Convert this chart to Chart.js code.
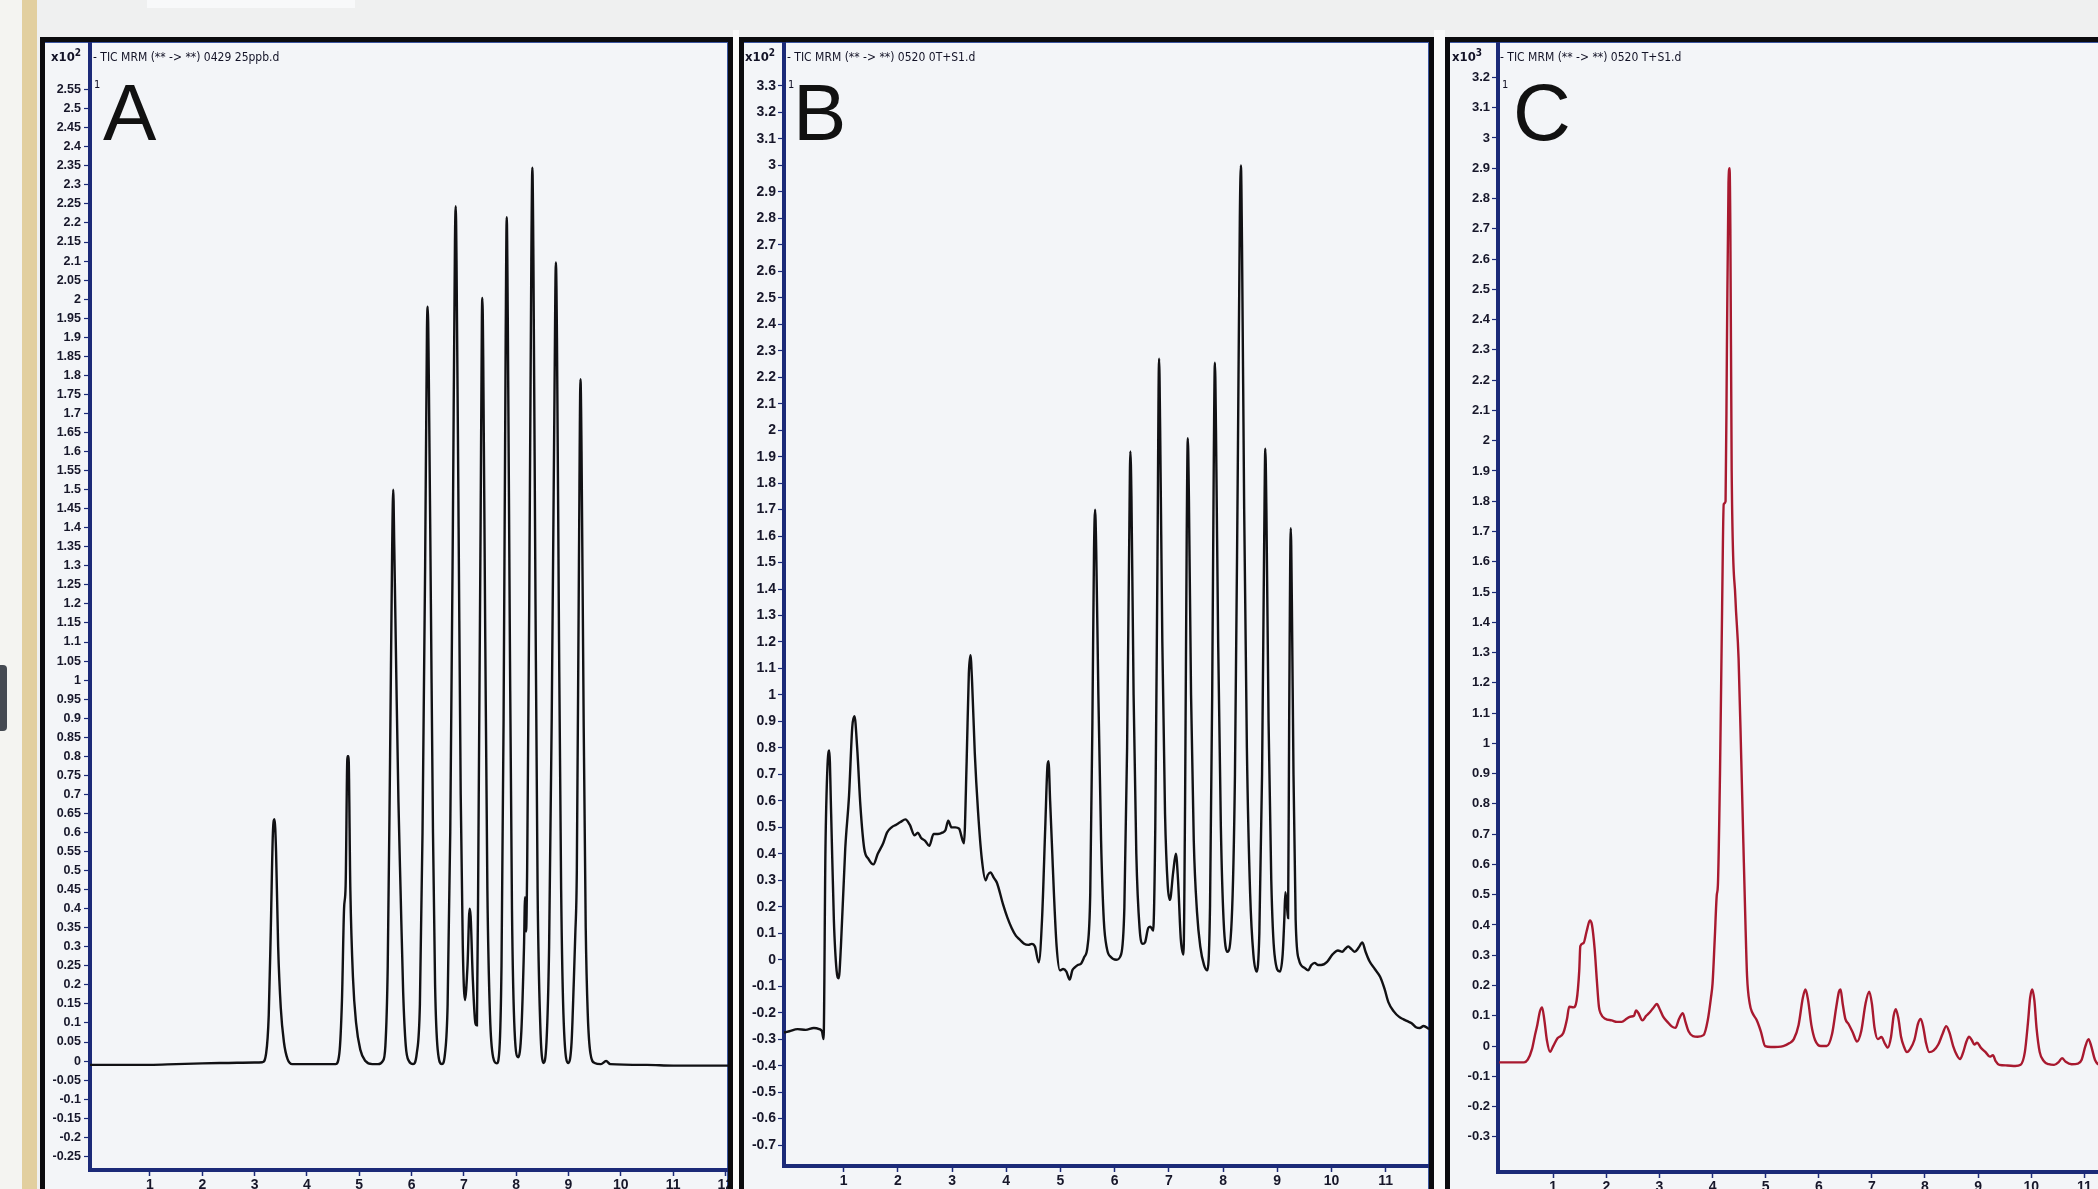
<!DOCTYPE html>
<html>
<head>
<meta charset="utf-8">
<script src="https://cdn.jsdelivr.net/npm/chart.js@4.4.1/dist/chart.umd.min.js"></script>
<style>
html,body{margin:0;padding:0;width:2098px;height:1189px;overflow:hidden;background:#eff0f0;}
#leftwhite{position:absolute;left:0;top:0;width:22px;height:1189px;background:#f4f4f1;}
#beige{position:absolute;left:22px;top:0;width:15px;height:1189px;background:#e2cf9f;}
#blob{position:absolute;left:0;top:665px;width:7px;height:66px;background:#454a52;border-radius:0 4px 4px 0;}
#paper{position:absolute;left:147px;top:0;width:208px;height:8px;background:#f8f9fa;}
#gap1{position:absolute;left:733px;top:30px;width:6px;height:1189px;background:#fafbfb;}
#gap2{position:absolute;left:1434px;top:30px;width:11px;height:1189px;background:#fafbfb;}
.panel{position:absolute;top:37px;height:1200px;border:5px solid #0b0b0e;background:#f3f5f8;
  box-shadow: inset 0 1px 0 #3a55a0, inset -1px 0 0 #3a55a0;}
.panel canvas{position:absolute;left:0;top:0;}
.txt{position:absolute;white-space:nowrap;color:#121226;font-family:"DejaVu Sans Condensed","Liberation Sans",sans-serif;}
.hdr{font-size:12px;line-height:14px;}
.hdr sup{font-size:10px;vertical-align:5px;line-height:0;}
.x10{font-size:13px;font-weight:bold;}
.one{font-size:11px;line-height:12px;}
.big{font-family:"Liberation Sans",Arial,sans-serif;font-size:80px;line-height:80px;color:#111;}
</style>
</head>
<body>
<div id="leftwhite"></div>
<div id="beige"></div>
<div id="blob"></div>
<div id="paper"></div>
<div id="gap1"></div>
<div id="gap2"></div>

<div class="panel" style="left:40px;width:683px;"><canvas id="cA" width="683" height="1158" style="width:683px;height:1158px"></canvas></div>
<div class="panel" style="left:739px;width:685px;"><canvas id="cB" width="685" height="1158" style="width:685px;height:1158px"></canvas></div>
<div class="panel" style="left:1445px;width:690px;border-right:none;"><canvas id="cC" width="680" height="1158" style="width:680px;height:1158px"></canvas></div>

<div class="txt hdr x10" style="left:51px;top:50px;">x10<sup>2</sup></div>
<div class="txt hdr" style="left:93px;top:50px;">- TIC MRM (** -&gt; **) 0429 25ppb.d</div>
<div class="txt one" style="left:94px;top:79px;">1</div>
<div class="txt big" style="left:103px;top:73px;">A</div>

<div class="txt hdr x10" style="left:745px;top:50px;">x10<sup>2</sup></div>
<div class="txt hdr" style="left:787px;top:50px;">- TIC MRM (** -&gt; **) 0520 0T+S1.d</div>
<div class="txt one" style="left:788px;top:79px;">1</div>
<div class="txt big" style="left:793px;top:73px;">B</div>

<div class="txt hdr x10" style="left:1452px;top:50px;">x10<sup>3</sup></div>
<div class="txt hdr" style="left:1500px;top:50px;">- TIC MRM (** -&gt; **) 0520 T+S1.d</div>
<div class="txt one" style="left:1502px;top:79px;">1</div>
<div class="txt big" style="left:1513px;top:73px;">C</div>

<script>
// ---------------- Panel A : 0429 25ppb.d (x10^2 counts) ----------------
const timeA = [
  -0.15, 0.5, 1.0, 1.5, 2.0, 2.5, 3.0, 3.15,
  3.22, 3.27, 3.31, 3.35, 3.38, 3.41, 3.45, 3.50, 3.56, 3.63, 3.72,
  4.1, 4.55,
  4.62, 4.67, 4.71, 4.74, 4.775, 4.795, 4.83, 4.88, 4.94, 5.02, 5.12, 5.25,
  5.36, 5.45, 5.50, 5.545, 5.59, 5.63, 5.65, 5.67, 5.71, 5.75, 5.79, 5.84, 5.89, 5.95,
  6.03, 6.10, 6.16, 6.21, 6.26, 6.295, 6.31, 6.33, 6.37, 6.41, 6.45, 6.50, 6.58,
  6.64, 6.69, 6.74, 6.79, 6.83, 6.845, 6.86, 6.90, 6.94, 6.98, 7.02,
  7.07, 7.11, 7.13, 7.17, 7.22, 7.25,
  7.28, 7.32, 7.345, 7.355, 7.37, 7.41, 7.45, 7.50, 7.56, 7.63,
  7.68, 7.72, 7.76, 7.80, 7.82, 7.84, 7.88, 7.92, 7.97, 8.04,
  8.10, 8.15, 8.17, 8.19, 8.21,
  8.25, 8.29, 8.31, 8.33, 8.37, 8.41, 8.46, 8.52,
  8.58, 8.63, 8.68, 8.73, 8.76, 8.78, 8.82, 8.86, 8.91, 9.0,
  9.06, 9.10, 9.13, 9.16, 9.20, 9.23, 9.25, 9.29, 9.33, 9.37, 9.42, 9.50,
  9.62, 9.72, 9.80, 10.5, 11.0, 11.5, 12.1
];
const signalA = [
  -0.010, -0.010, -0.010, -0.008, -0.006, -0.005, -0.004, -0.003,
  0.02, 0.12, 0.35, 0.60, 0.635, 0.55, 0.30, 0.14, 0.05, 0.005, -0.008,
  -0.008, -0.008,
  0.02, 0.16, 0.40, 0.46, 0.80, 0.80, 0.45, 0.22, 0.10, 0.03, 0.0, -0.008,
  -0.008, 0.0, 0.04, 0.25, 0.80, 1.35, 1.50, 1.35, 1.0, 0.68, 0.45, 0.18, 0.04, 0.0,
  -0.008, 0.02, 0.15, 0.6, 1.3, 1.92, 1.98, 1.8, 1.2, 0.6, 0.2, 0.03, -0.008,
  0.02, 0.15, 0.6, 1.4, 2.15, 2.244, 2.1, 1.4, 0.7, 0.3, 0.16,
  0.25, 0.40, 0.38, 0.22, 0.10, 0.094,
  0.6, 1.4, 1.95, 2.003, 1.85, 1.1, 0.45, 0.12, 0.01, -0.006,
  0.03, 0.25, 0.9, 1.9, 2.215, 1.95, 1.1, 0.4, 0.08, 0.01,
  0.08, 0.3, 0.43, 0.34, 0.5,
  1.2, 2.1, 2.345, 2.1, 1.2, 0.45, 0.1, -0.005,
  0.05, 0.3, 0.9, 1.7, 2.096, 1.9, 1.1, 0.45, 0.1, -0.005,
  0.05, 0.2, 0.33, 0.50, 1.3, 1.79, 1.6, 0.9, 0.35, 0.12, 0.02, -0.005,
  -0.008, 0.0, -0.008, -0.010, -0.012, -0.012, -0.012
];
const yTicksA = [-0.25,-0.2,-0.15,-0.1,-0.05,0,0.05,0.1,0.15,0.2,0.25,0.3,0.35,0.4,0.45,0.5,0.55,0.6,0.65,0.7,
  0.75,0.8,0.85,0.9,0.95,1,1.05,1.1,1.15,1.2,1.25,1.3,1.35,1.4,1.45,1.5,1.55,1.6,1.65,1.7,1.75,1.8,1.85,1.9,
  1.95,2,2.05,2.1,2.15,2.2,2.25,2.3,2.35,2.4,2.45,2.5,2.55];
const xTicksA = [1,2,3,4,5,6,7,8,9,10,11,12];

// ---------------- Panel B : 0520 0T+S1.d (x10^2 counts) ----------------
const timeB = [
  -0.10, 0.0, 0.15, 0.30, 0.45, 0.55, 0.60, 0.63,
  0.665, 0.70, 0.735, 0.77, 0.82, 0.87, 0.91, 0.95, 1.03, 1.10, 1.16, 1.20, 1.25, 1.31, 1.38, 1.46, 1.55,
  1.63, 1.73, 1.80, 1.885, 1.97, 2.05, 2.14, 2.22, 2.31, 2.37, 2.43, 2.50, 2.58, 2.66, 2.74, 2.82, 2.88, 2.93, 2.99, 3.06, 3.13, 3.22,
  3.27, 3.31, 3.34, 3.37, 3.42, 3.48, 3.55, 3.62, 3.66, 3.71, 3.77, 3.83, 3.94, 4.02, 4.10, 4.18, 4.25, 4.33, 4.41, 4.47, 4.53, 4.60,
  4.66, 4.72, 4.76, 4.78, 4.81, 4.85, 4.88, 4.93, 4.99, 5.05, 5.11, 5.17, 5.22, 5.26, 5.32, 5.38, 5.44, 5.50,
  5.55, 5.59, 5.62, 5.64, 5.66, 5.70, 5.75, 5.80, 5.86, 5.93, 6.03,
  6.12, 6.18, 6.23, 6.27, 6.29, 6.31, 6.35, 6.40, 6.46, 6.52, 6.56, 6.62, 6.66, 6.71,
  6.75, 6.79, 6.82, 6.84, 6.88, 6.93, 6.98, 7.02, 7.08, 7.13, 7.17, 7.22, 7.27,
  7.30, 7.33, 7.35, 7.37, 7.41, 7.46, 7.52, 7.58, 7.65, 7.71,
  7.76, 7.80, 7.83, 7.85, 7.87, 7.91, 7.96, 8.01, 8.08,
  8.16, 8.22, 8.27, 8.31, 8.33, 8.35, 8.39, 8.44, 8.50, 8.56, 8.62,
  8.67, 8.72, 8.76, 8.78, 8.80, 8.84, 8.89, 8.95, 9.05,
  9.10, 9.13, 9.15, 9.18, 9.20, 9.22, 9.25, 9.27, 9.30, 9.34, 9.40,
  9.50, 9.57, 9.63, 9.69, 9.75, 9.81, 9.92, 10.02, 10.12, 10.20, 10.25, 10.31, 10.37, 10.43, 10.50, 10.57, 10.63, 10.70,
  10.80, 10.90, 10.98, 11.05, 11.15, 11.25, 11.33, 11.40, 11.48, 11.56, 11.63, 11.70, 11.80
];
const signalB = [
  -0.275, -0.27, -0.262, -0.265, -0.258, -0.262, -0.27, -0.30,
  0.42, 0.72, 0.79, 0.55, 0.15, -0.04, -0.07, 0.05, 0.42, 0.62, 0.88, 0.92, 0.80, 0.58, 0.42, 0.38, 0.36,
  0.40, 0.44, 0.48, 0.50, 0.51, 0.52, 0.53, 0.51, 0.47, 0.48, 0.46, 0.45, 0.43, 0.475, 0.475, 0.48, 0.49, 0.525, 0.50, 0.50, 0.495, 0.44,
  0.75, 1.08, 1.15, 1.05, 0.78, 0.56, 0.38, 0.30, 0.32, 0.33, 0.31, 0.29, 0.21, 0.16, 0.12, 0.09, 0.076, 0.06, 0.056, 0.06, 0.05, -0.01,
  0.15, 0.50, 0.73, 0.75, 0.60, 0.40, 0.25, 0.05, -0.04, -0.035, -0.045, -0.075, -0.04, -0.03, -0.02, -0.015, 0.01, 0.05,
  0.25, 0.90, 1.55, 1.70, 1.55, 1.00, 0.45, 0.15, 0.04, 0.01, 0.0,
  0.02, 0.2, 0.8, 1.6, 1.92, 1.75, 1.0, 0.4, 0.12, 0.06, 0.065, 0.12, 0.125, 0.11,
  0.5, 1.5, 2.27, 2.0, 1.2, 0.55, 0.28, 0.226, 0.33, 0.40, 0.30, 0.08, 0.02,
  0.6, 1.6, 1.97, 1.75, 1.0, 0.45, 0.18, 0.05, -0.02, -0.04,
  0.2, 1.0, 1.9, 2.255, 2.0, 1.2, 0.5, 0.15, 0.03,
  0.15, 0.7, 1.8, 2.8, 3.00, 2.7, 1.7, 0.8, 0.25, 0.02, -0.045,
  0.1, 0.7, 1.6, 1.93, 1.7, 0.9, 0.3, 0.02, -0.045,
  0.02, 0.15, 0.255, 0.20, 0.157, 0.9, 1.63, 1.35, 0.7, 0.15, 0.0,
  -0.03, -0.04, -0.02, -0.012, -0.02, -0.02, -0.008, 0.02, 0.035, 0.03, 0.04, 0.05, 0.04, 0.03, 0.045, 0.065, 0.03, -0.005,
  -0.035, -0.065, -0.11, -0.16, -0.195, -0.216, -0.225, -0.232, -0.24, -0.255, -0.258, -0.25, -0.262
];
const yTicksB = [-0.7,-0.6,-0.5,-0.4,-0.3,-0.2,-0.1,0,0.1,0.2,0.3,0.4,0.5,0.6,0.7,0.8,0.9,1,1.1,1.2,1.3,1.4,1.5,
  1.6,1.7,1.8,1.9,2,2.1,2.2,2.3,2.4,2.5,2.6,2.7,2.8,2.9,3,3.1,3.2,3.3];
const xTicksB = [1,2,3,4,5,6,7,8,9,10,11];

// ---------------- Panel C : 0520 T+S1.d (x10^3 counts) ----------------
const timeC = [
  -0.02, 0.20, 0.45, 0.52, 0.60, 0.65, 0.70, 0.75, 0.79, 0.83, 0.88, 0.94, 1.00, 1.08, 1.19, 1.26, 1.30, 1.38, 1.44,
  1.49, 1.51, 1.57, 1.63, 1.69, 1.73, 1.78, 1.82, 1.86, 1.89, 1.98, 2.10, 2.20, 2.29,
  2.38, 2.45, 2.52, 2.56, 2.60, 2.68, 2.75, 2.81, 2.88, 2.95, 3.01, 3.07, 3.15, 3.23, 3.30, 3.37, 3.44, 3.49, 3.55, 3.63, 3.72, 3.83,
  3.91, 3.97, 4.00, 4.04, 4.08, 4.10, 4.14, 4.18, 4.21, 4.245, 4.27, 4.30, 4.32, 4.335, 4.36, 4.43, 4.49, 4.54, 4.58, 4.62, 4.65, 4.70, 4.75, 4.83, 4.91, 4.99,
  5.10, 5.33, 5.45, 5.53, 5.62, 5.70, 5.75, 5.80, 5.86, 5.93, 6.04, 6.15,
  6.25, 6.33, 6.38, 6.41, 6.45, 6.50, 6.56, 6.64, 6.72, 6.80, 6.88, 6.95, 7.00, 7.05, 7.11, 7.18, 7.24, 7.30,
  7.36, 7.41, 7.45, 7.50, 7.55, 7.60, 7.66, 7.72, 7.80, 7.87, 7.92, 7.97, 8.02, 8.08, 8.16,
  8.25, 8.33, 8.40, 8.46, 8.53, 8.60, 8.66, 8.72, 8.78, 8.83, 8.88, 8.93, 8.98, 9.05, 9.14, 9.22, 9.28, 9.33, 9.40,
  9.55, 9.70, 9.80, 9.88, 9.94, 9.98, 10.02, 10.06, 10.10, 10.16, 10.24, 10.33, 10.43,
  10.52, 10.58, 10.65, 10.76, 10.88, 10.95, 11.02, 11.08, 11.13, 11.20, 11.30, 11.45, 11.60, 11.86
];
const signalC = [
  -0.054, -0.054, -0.054, -0.045, -0.01, 0.031, 0.07, 0.115, 0.128, 0.09, 0.02, -0.019, 0.0, 0.026, 0.043, 0.09, 0.13, 0.128, 0.15,
  0.25, 0.33, 0.34, 0.38, 0.415, 0.40, 0.32, 0.22, 0.13, 0.109, 0.09, 0.085, 0.08, 0.08,
  0.09, 0.097, 0.10, 0.118, 0.11, 0.085, 0.10, 0.11, 0.125, 0.139, 0.12, 0.097, 0.08, 0.065, 0.06, 0.09, 0.109, 0.08, 0.048, 0.033, 0.031, 0.036,
  0.086, 0.16, 0.207, 0.35, 0.50, 0.53, 0.90, 1.45, 1.79, 1.80, 2.3, 2.85, 2.90, 2.7, 1.9, 1.48, 1.28, 0.95, 0.67, 0.40, 0.23, 0.14, 0.11, 0.086, 0.048, 0.0,
  -0.003, 0.0, 0.01, 0.023, 0.07, 0.16, 0.187, 0.15, 0.07, 0.02, 0.0, 0.0,
  0.04, 0.13, 0.18, 0.187, 0.14, 0.09, 0.073, 0.045, 0.015, 0.05, 0.14, 0.18, 0.14, 0.06, 0.023, 0.03, 0.01, -0.005,
  0.03, 0.10, 0.122, 0.09, 0.03, 0.0, -0.02, -0.01, 0.02, 0.075, 0.09, 0.06, 0.01, -0.02, -0.015,
  0.005, 0.04, 0.066, 0.045, 0.0, -0.03, -0.043, -0.02, 0.015, 0.031, 0.02, 0.005, 0.011, -0.005, -0.02, -0.035, -0.03, -0.05, -0.062,
  -0.064, -0.066, -0.062, -0.02, 0.08, 0.16, 0.187, 0.15, 0.06, -0.02, -0.05, -0.06, -0.062,
  -0.052, -0.04, -0.052, -0.06, -0.058, -0.045, 0.0, 0.023, 0.0, -0.045, -0.062, -0.06, -0.06, -0.06
];
const yTicksC = [-0.3,-0.2,-0.1,0,0.1,0.2,0.3,0.4,0.5,0.6,0.7,0.8,0.9,1,1.1,1.2,1.3,1.4,1.5,1.6,1.7,1.8,1.9,
  2,2.1,2.2,2.3,2.4,2.5,2.6,2.7,2.8,2.9,3,3.1,3.2];
const xTicksC = [1,2,3,4,5,6,7,8,9,10,11];

// ---------------- drawing ----------------
const NAVY = '#1b2a78';
const LABEL = '#17172a';
const fmt = v => String(Math.round(v * 100) / 100);

function drawPanel(id, p) {
  const pts = p.t.map((t, i) => ({ x: t, y: p.v[i] }));
  return new Chart(document.getElementById(id), {
    type: 'line',
    data: { datasets: [{ data: pts, borderColor: p.color, borderWidth: 2.4, pointRadius: 0,
      cubicInterpolationMode: 'monotone', fill: false }] },
    options: {
      responsive: false, animation: false, devicePixelRatio: 1, events: [],
      layout: { autoPadding: false, padding: 0 },
      plugins: { legend: { display: false }, tooltip: { enabled: false } },
      scales: {
        x: {
          type: 'linear', min: p.xmin, max: p.xmax,
          afterFit: s => { s.height = p.xh; s.paddingLeft = 0; s.paddingRight = 0; s.paddingTop = 0; s.paddingBottom = 0; },
          afterBuildTicks: s => { s.ticks = p.xticks.map(v => ({ value: v })); },
          ticks: { autoSkip: false, maxRotation: 0, color: LABEL, padding: 1,
            font: { family: '"Liberation Sans", Arial, sans-serif', size: 14, weight: 'bold' },
            callback: v => fmt(v) },
          grid: { drawOnChartArea: false, drawTicks: true, tickLength: 6, tickColor: NAVY, tickWidth: 1.5 },
          border: { display: true, color: NAVY, width: 4 }
        },
        y: {
          type: 'linear', min: p.ymin, max: p.ymax,
          afterFit: s => { s.width = p.yw; s.paddingTop = 0; s.paddingBottom = 0; s.paddingLeft = 0; s.paddingRight = 0; },
          afterBuildTicks: s => { s.ticks = p.yticks.map(v => ({ value: v })); },
          ticks: { autoSkip: false, color: LABEL, padding: p.ypad,
            font: { family: '"Liberation Sans", Arial, sans-serif', size: p.ysize, weight: 'bold' },
            callback: v => fmt(v) },
          grid: { drawOnChartArea: false, drawTicks: true, tickLength: 6, tickColor: NAVY, tickWidth: 1.2 },
          border: { display: true, color: NAVY, width: 4 }
        }
      }
    }
  });
}

drawPanel('cA', { t: timeA, v: signalA, color: '#111114', xmin: -0.147, xmax: 12.05, ymin: -0.286, ymax: 2.675,
  xticks: xTicksA, yticks: yTicksA, xh: 30, yw: 45, ypad: 3, ysize: 12.5 });
drawPanel('cB', { t: timeB, v: signalB, color: '#111114', xmin: -0.10, xmax: 11.80, ymin: -0.779, ymax: 3.466,
  xticks: xTicksB, yticks: yTicksB, xh: 34, yw: 40, ypad: 2, ysize: 14 });
drawPanel('cC', { t: timeC, v: signalC, color: '#a8192f', xmin: -0.04, xmax: 11.86, ymin: -0.416, ymax: 3.317,
  xticks: xTicksC, yticks: yTicksC, xh: 28, yw: 48, ypad: 2, ysize: 13 });
</script>
</body>
</html>
